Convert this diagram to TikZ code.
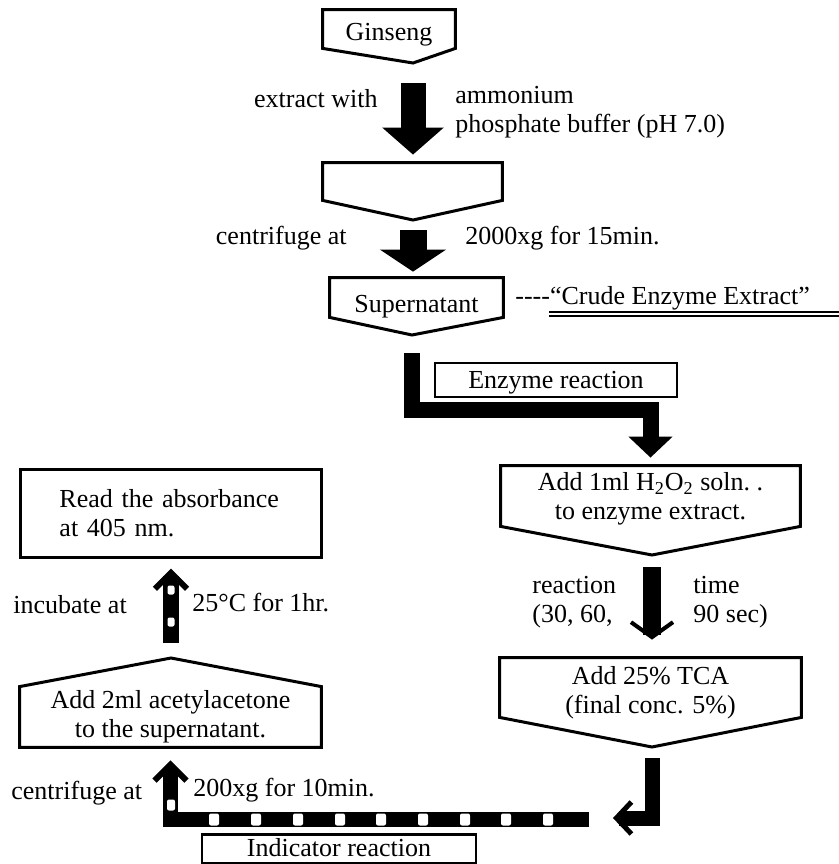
\documentclass[tikz,border=0pt]{standalone}
\usepackage{fontspec}
\setmainfont{Liberation Serif}
\usetikzlibrary{arrows.meta,calc,positioning}

% outline of a step box pointing down (or up) to a tip coordinate
\newcommand{\downbox}[2]{\draw[boxline] (#1.north west) -- (#1.north east) -- (#1.south east) -- (#2) -- (#1.south west) -- cycle;}
\newcommand{\upbox}[2]{\draw[boxline] (#1.south west) -- (#1.south east) -- (#1.north east) -- (#2) -- (#1.north west) -- cycle;}
% text set a little lower than the centre of its box
\newcommand{\lowered}[2]{\raisebox{-#1}[\height][\depth]{\begin{tabular}{@{}c@{}}#2\end{tabular}}}

\begin{document}
\begin{tikzpicture}[x=0.5pt, y=-0.5pt,
    every node/.style={font=\fontsize{13}{14.5}\selectfont},
    stage/.style={inner sep=0pt, align=center},
    boxline/.style={line width=1.5pt, line join=miter},
    tag/.style={draw, line width=1.1pt, inner sep=0pt, minimum height=17pt},
    note/.style={inner sep=0pt, align=left},
    fat/.style={line width=#1, line join=miter}
]
\useasboundingbox (0,0) rectangle (839,864);

% Extraction
\node[stage, minimum width=66pt, minimum height=19pt] (ginseng) at (389,29) {\lowered{3pt}{Ginseng}};
\coordinate (gtip) at (413,63);
\downbox{ginseng}{gtip}

\node[stage, minimum width=89.5pt, minimum height=18.5pt] (extract) at (412.5,181.5) {};
\coordinate (etip) at (413,220);
\downbox{extract}{etip}

\node[stage, minimum width=86.5pt, minimum height=19.5pt] (superna) at (416.5,297.5) {\lowered{4.5pt}{Supernatant}};
\coordinate (stip) at (412,335);
\downbox{superna}{stip}

\node[note, anchor=west] (crude) at (515,298) {{-}{-}{-}{-}“Crude Enzyme Extract”};
\draw[line width=0.6pt] (549,312) -- (839,312) (549,316) -- (839,316);

\node[note, anchor=east] (extwith) at (378,99) {extract with};
\node[note, anchor=west] (buffer) at (455,112) {ammonium\\phosphate buffer (pH 7.0)};
\node[note, anchor=east] (cfupa) at (347,238) {centrifuge at};
\node[note, anchor=west] (cfupb) at (465,238) {2000xg for 15min.};

\draw[fat=12.5pt, -{Triangle[width=30pt,length=13.5pt]}] ([yshift=-10pt]gtip) -- ($(gtip |- extract.north)+(0,4pt)$);
\draw[fat=13.5pt, -{Triangle[width=32.5pt,length=11pt]}] ([yshift=-5pt]etip) -- ($(etip |- superna.north)+(0,3pt)$);

% Enzyme reaction
\node[tag, minimum width=121pt] (enzrx) at (556,380) {\lowered{1.5pt}{Enzyme reaction}};

\node[stage, minimum width=149.5pt, minimum height=30pt] (htwo) at (650.5,496) {\lowered{1.5pt}{Add 1ml H\textsubscript{2}O\textsubscript{2} soln.\ .\\to enzyme extract.}};
\coordinate (htip) at (652,555);
\downbox{htwo}{htip}

\draw[fat=8pt, -{Triangle[width=21.5pt,length=10.5pt]}] ([yshift=-9pt]stip) -- ++(0,-28.5pt) -| ($(htwo.north)+(0,4pt)$);

\node[note, anchor=west] (rtime) at (532,602.5) {reaction\\(30, 60,};
\node[note, anchor=west] (rsec) at (693,602.5) {time\\90 sec)};

\node[stage, minimum width=150.5pt, minimum height=29.5pt] (tca) at (650.5,687.5) {\lowered{3pt}{Add 25\% TCA\\(final conc. 5\%)}};
\coordinate (ttip) at (652,747);
\downbox{tca}{ttip}

\draw[fat=9pt, -{Straight Barb[width=21pt,length=7.5pt,line width=2pt]}] ([yshift=-6pt]htip) -- ($(htip |- tca.north)+(0,9pt)$);

% Indicator reaction
\coordinate (bendend) at (613,818);
\draw[fat=7.5pt, -{Straight Barb[width=16pt,length=7.5pt,line width=2.5pt]}] ([yshift=-5.5pt]ttip) |- (bendend);

\node[stage, minimum width=150.5pt, minimum height=30pt] (acac) at (170.5,717) {Add 2ml acetylacetone\\to the supernatant.};
\coordinate (atip) at (171,658);
\upbox{acac}{atip}

\node[draw, boxline, inner sep=0pt, minimum width=150.5pt, minimum height=44pt, text width=111pt, align=left] (readabs) at (170.5,513) {Read the absorbance\\at 405 nm.};

\coordinate (bandend) at (589,819.5);
\draw[fat=7.5pt, -{Straight Barb[width=16pt,length=8pt,line width=3pt]}] (bandend) -| ($(acac.south)+(0,-6.5pt)$);
\draw[fat=8pt, -{Straight Barb[width=16pt,length=8pt,line width=3pt]}] ([yshift=7.5pt]atip) -- ($(atip |- readabs.south)+(0,-5pt)$);

% white marks on the indicator arrows
\foreach \x in {214,256,298,340,381,423,465,506,548}
  \fill[white, rounded corners=1pt] (\x-5,813.5) rectangle (\x+5,825.5);
\foreach \y in {590,622}
  \fill[white, rounded corners=1pt] (167.5,\y-4.5) rectangle (174.5,\y+4.5);
\fill[white, rounded corners=1pt] (167,799.5) rectangle (175,810.5);

\node[tag, minimum width=137pt, minimum height=14pt] (indic) at (339,849) {\lowered{1pt}{Indicator reaction}};

\node[note, anchor=west] (incub) at (13,605) {incubate at};
\node[note, anchor=west] (incubt) at (192,603) {25°C for 1hr.};
\node[note, anchor=west] (cflowa) at (11,793) {centrifuge at};
\node[note, anchor=west] (cflowb) at (193,790) {200xg for 10min.};

\end{tikzpicture}
\end{document}
